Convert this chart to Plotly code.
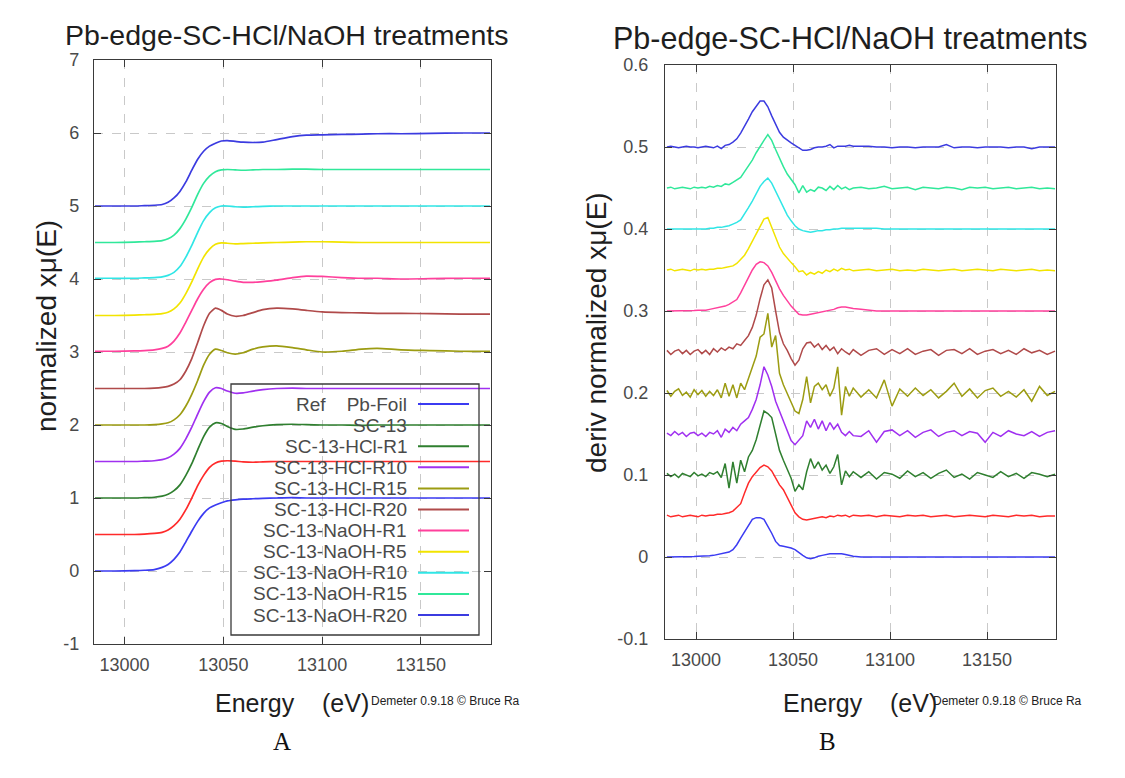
import plotly.graph_objects as go

# ---------------- data ----------------
samples = ["Ref    Pb-Foil", "SC-13", "SC-13-HCl-R1", "SC-13-HCl-R10", "SC-13-HCl-R15",
           "SC-13-HCl-R20", "SC-13-NaOH-R1", "SC-13-NaOH-R5", "SC-13-NaOH-R10",
           "SC-13-NaOH-R15", "SC-13-NaOH-R20"]
colors = ["#3b3bf2", "#ff2a2a", "#2f7f2f", "#a030f0", "#9c9c12", "#b04a4a",
          "#ff409c", "#f2e400", "#30e6e6", "#30e89a", "#3b3be0"]
show_legend_line = [True, False, True, True, True, True, True, True, True, True, True]

# y offsets used in the stacked plots
offsets_norm = [0, 0.5, 1.0, 1.5, 2.0, 2.5, 3.0, 3.5, 4.0, 4.5, 5.0]
offsets_deriv = [0, 0.05, 0.10, 0.15, 0.20, 0.25, 0.30, 0.35, 0.40, 0.45, 0.50]

# energy grid for normalized spectra (eV)
norm_E = [12985, 12995, 13005, 13010, 13015, 13019, 13022, 13025, 13028, 13031,
          13034, 13037, 13040, 13043, 13046, 13049, 13052, 13056, 13060, 13065,
          13070, 13077, 13085, 13092, 13100, 13110, 13120, 13128, 13140, 13155,
          13170, 13185]

mu_ref = [0.0, 0.0, 0.005, 0.01, 0.02, 0.05, 0.09, 0.16, 0.26, 0.40, 0.545, 0.68, 0.79, 0.865,
          0.905, 0.935, 0.96, 0.975, 0.985, 0.99, 0.995, 1.0, 1.005, 1.0, 1.0, 1.0, 1.0, 1.0,
          1.0, 1.0, 1.0, 1.0]
mu_sc13 = [0.0, 0.0, 0.0, 0.005, 0.015, 0.03, 0.06, 0.12, 0.21, 0.34, 0.50, 0.67, 0.81, 0.92,
           0.98, 1.005, 1.01, 1.005, 0.995, 0.99, 0.995, 1.0, 1.0, 1.0, 1.0, 1.0, 1.0, 1.0,
           1.0, 1.0, 1.0, 1.0]
mu_hcl1 = [0.0, 0.0, 0.0, 0.005, 0.01, 0.025, 0.05, 0.10, 0.18, 0.31, 0.47, 0.66, 0.84, 0.97,
           1.03, 1.02, 0.98, 0.94, 0.945, 0.97, 0.99, 1.005, 1.01, 1.005, 1.0, 1.0, 0.995, 1.0,
           1.0, 1.0, 1.0, 1.0]
mu_hcl10 = [0.0, 0.0, 0.0, 0.005, 0.01, 0.025, 0.05, 0.10, 0.18, 0.31, 0.47, 0.65, 0.82, 0.95,
            1.01, 1.0, 0.965, 0.935, 0.94, 0.965, 0.985, 1.0, 1.005, 1.0, 1.0, 1.0, 1.0, 1.0,
            1.0, 1.0, 1.0, 1.0]
mu_hcl15 = [0.0, 0.0, 0.0, 0.0, 0.005, 0.015, 0.03, 0.07, 0.14, 0.26, 0.42, 0.61, 0.82, 0.97,
            1.04, 1.02, 0.99, 0.97, 0.99, 1.04, 1.07, 1.085, 1.06, 1.03, 1.0, 1.01, 1.04, 1.05,
            1.03, 1.02, 1.01, 1.01]
mu_hcl20 = [0.0, 0.0, 0.0, 0.0, 0.005, 0.015, 0.03, 0.06, 0.12, 0.24, 0.41, 0.63, 0.86, 1.03,
            1.10, 1.07, 1.02, 0.99, 1.0, 1.04, 1.08, 1.10, 1.09, 1.07, 1.05, 1.04, 1.035, 1.03,
            1.03, 1.025, 1.02, 1.02]
mu_naoh1 = [0.01, 0.01, 0.015, 0.02, 0.03, 0.05, 0.08, 0.15, 0.26, 0.41, 0.57, 0.73, 0.86, 0.95,
            0.995, 1.0, 0.99, 0.97, 0.955, 0.955, 0.965, 0.985, 1.02, 1.04, 1.035, 1.02, 1.01,
            1.01, 1.0, 1.005, 1.01, 1.01]
mu_naoh5 = [0.0, 0.0, 0.005, 0.01, 0.015, 0.025, 0.045, 0.09, 0.17, 0.30, 0.46, 0.64, 0.80, 0.91,
            0.975, 0.995, 0.99, 0.98, 0.985, 0.99, 0.995, 1.0, 1.005, 1.01, 1.01, 1.005, 1.0,
            1.0, 1.0, 1.0, 1.0, 1.0]
mu_naoh10 = [0.01, 0.01, 0.01, 0.015, 0.02, 0.03, 0.05, 0.09, 0.17, 0.30, 0.46, 0.64, 0.80, 0.91,
             0.975, 1.0, 1.0, 0.99, 0.985, 0.99, 0.995, 1.0, 1.0, 1.0, 1.0, 1.0, 1.0, 1.0, 1.0,
             1.0, 1.0, 1.0]
mu_naoh15 = [0.0, 0.0, 0.005, 0.01, 0.015, 0.025, 0.05, 0.10, 0.19, 0.32, 0.48, 0.66, 0.81, 0.91,
             0.97, 0.995, 1.0, 0.995, 0.99, 0.995, 1.0, 1.0, 1.005, 1.005, 1.0, 1.0, 1.0, 1.0,
             1.0, 1.0, 1.0, 1.0]
mu_naoh20 = [0.0, 0.0, 0.0, 0.005, 0.01, 0.02, 0.05, 0.11, 0.20, 0.33, 0.49, 0.64, 0.75, 0.82,
             0.86, 0.89, 0.895, 0.885, 0.875, 0.87, 0.875, 0.91, 0.95, 0.97, 0.975, 0.98, 0.985,
             0.99, 0.99, 0.995, 1.0, 1.0]

# energy grid for derivative spectra (eV)
deriv_E = [12985, 12987, 12989, 12991, 12993, 12995, 12997, 12999, 13001, 13003,
           13005, 13007, 13009, 13011, 13013, 13015, 13017, 13019, 13021, 13023,
           13025, 13027, 13029, 13031, 13033, 13035, 13037, 13039, 13041, 13043,
           13045, 13047, 13049, 13051, 13053, 13055, 13057, 13059, 13061, 13063,
           13065, 13067, 13069, 13071, 13073, 13075, 13077, 13079, 13081,
           13085, 13089, 13093, 13097, 13101, 13105, 13109, 13113, 13117, 13121,
           13125, 13129, 13133, 13137, 13141, 13145, 13149, 13153, 13157, 13161,
           13165, 13169, 13173, 13177, 13181, 13185]

d_ref = [0.0, 0.0, 0.0, 0.0, 0.0, 0.0, 0.0005, 0.0005, 0.001, 0.001,
         0.001, 0.0015, 0.002, 0.003, 0.004, 0.005, 0.006, 0.009, 0.015, 0.023,
         0.031, 0.039, 0.046, 0.048, 0.048, 0.046, 0.038, 0.029, 0.019, 0.014,
         0.013, 0.012, 0.011, 0.009, 0.005, 0.002, -0.001, -0.002, -0.001, 0.001,
         0.002, 0.003, 0.004, 0.004, 0.004, 0.004, 0.003, 0.002, 0.001,
         0.0, 0.0, 0.0, 0.0, 0.0, 0.0, 0.0, 0.0, 0.0, 0.0, 0.0, 0.0, 0.0,
         0.0, 0.0, 0.0, 0.0, 0.0, 0.0, 0.0, 0.0, 0.0, 0.0, 0.0, 0.0, 0.0]
d_sc13 = [0.001, -0.001, 0.0, 0.001, -0.001, 0.0, 0.001, 0.0, -0.001, 0.001,
          0.0, 0.001, 0.001, 0.002, 0.002, 0.003, 0.004, 0.006, 0.010, 0.015,
          0.028, 0.040, 0.048, 0.054, 0.059, 0.062, 0.060, 0.055, 0.047, 0.038,
          0.032, 0.022, 0.012, 0.004, -0.001, -0.004, -0.005, -0.004, -0.003, -0.002,
          -0.001, -0.002, 0.0, -0.001, 0.001, 0.0, 0.001, -0.001, 0.001,
          0.0, 0.001, -0.001, 0.001, 0.0, -0.001, 0.001, 0.0, 0.001, -0.001, 0.0, 0.001, -0.001,
          0.0, 0.001, 0.0, -0.001, 0.001, 0.0, -0.001, 0.001, 0.0, 0.001, -0.001, 0.0, 0.0]
d_hcl1 = [0.002, -0.002, 0.001, -0.003, 0.002, 0.0, -0.002, 0.003, -0.001, 0.001,
          -0.002, 0.003, 0.001, 0.004, -0.003, 0.014, -0.016, 0.016, -0.010, 0.018,
          0.004, 0.022, 0.030, 0.043, 0.062, 0.078, 0.075, 0.070, 0.050, 0.030,
          0.018, 0.008, -0.004, -0.020, -0.012, -0.018, 0.004, 0.020, 0.008, 0.016,
          0.006, 0.012, 0.002, 0.010, 0.025, -0.012, 0.005, -0.002, 0.004,
          -0.003, 0.004, -0.005, 0.003, 0.001, -0.004, 0.005, -0.002, 0.003, -0.004, 0.002, 0.006,
          -0.003, 0.001, -0.005, 0.003, 0.0, -0.003, 0.004, -0.002, 0.002, -0.004, 0.003, 0.001,
          -0.002, 0.001]
d_hcl10 = [0.001, -0.002, 0.003, -0.001, 0.002, -0.003, 0.001, 0.002, -0.002, 0.001,
           -0.003, 0.002, 0.0, 0.004, -0.004, 0.006, 0.002, 0.008, 0.004, 0.012,
           0.016, 0.020, 0.030, 0.042, 0.060, 0.082, 0.072, 0.058, 0.040, 0.028,
           0.016, 0.002, -0.008, -0.013, -0.008, -0.002, 0.016, 0.008, 0.018, 0.006,
           0.016, 0.004, 0.014, 0.006, 0.012, 0.002, -0.002, 0.003, -0.002,
           -0.003, 0.004, -0.010, 0.003, 0.005, -0.002, 0.004, -0.004, 0.002, 0.005, -0.003, 0.002,
           0.004, -0.002, 0.003, 0.001, -0.010, 0.002, -0.003, 0.004, 0.0, -0.002, 0.003, -0.003,
           0.002, 0.004]
d_hcl15 = [0.003, -0.004, 0.002, 0.005, -0.003, 0.001, -0.005, 0.004, -0.002, 0.003,
           -0.004, 0.002, -0.003, 0.004, -0.006, 0.012, -0.004, 0.010, -0.006, 0.012,
           0.004, 0.018, 0.030, 0.045, 0.068, 0.072, 0.097, 0.056, 0.070, 0.024,
           0.010, 0.0, -0.010, -0.022, -0.025, -0.008, 0.020, -0.012, 0.008, 0.012,
           0.004, 0.010, -0.004, 0.006, 0.032, -0.027, 0.008, -0.004, 0.006,
           -0.005, 0.004, -0.006, 0.016, -0.016, 0.005, -0.004, 0.006, -0.003, 0.004, -0.006, 0.002,
           0.012, -0.004, 0.005, -0.006, 0.003, 0.006, -0.004, 0.002, -0.005, 0.004, -0.010, 0.008,
           -0.003, 0.002]
d_hcl20 = [0.002, -0.003, 0.001, 0.003, -0.002, 0.002, -0.003, 0.001, 0.003, -0.002,
           0.002, -0.003, 0.004, 0.0, 0.005, 0.002, 0.006, 0.004, 0.010, 0.008,
           0.014, 0.020, 0.030, 0.045, 0.065, 0.082, 0.088, 0.078, 0.050, 0.024,
           0.010, 0.002, -0.008, -0.016, -0.010, 0.004, 0.011, 0.012, 0.006, 0.010,
           0.003, 0.008, 0.002, 0.006, -0.002, 0.004, 0.0, -0.003, 0.003,
           -0.004, 0.002, 0.004, -0.003, 0.003, -0.002, 0.004, -0.003, 0.001, 0.003, -0.004, 0.002,
           0.003, -0.002, 0.004, -0.003, 0.001, 0.003, -0.002, 0.002, -0.003, 0.004, -0.001, 0.002,
           -0.003, 0.001]
d_naoh1 = [0.0, 0.0, 0.0, 0.0, 0.0, 0.0, 0.0, 0.0005, 0.001, 0.001,
           0.001, 0.002, 0.003, 0.004, 0.005, 0.006, 0.008, 0.011, 0.014, 0.022,
           0.032, 0.042, 0.050, 0.057, 0.060, 0.059, 0.055, 0.047, 0.036, 0.027,
           0.019, 0.012, 0.006, 0.001, -0.004, -0.005, -0.005, -0.004, -0.003, -0.002,
           -0.001, 0.0, 0.001, 0.002, 0.004, 0.005, 0.005, 0.004, 0.003,
           0.002, 0.001, 0.0, 0.0, 0.0, 0.0, 0.0, 0.0, 0.0, 0.0, 0.0, 0.0, 0.0,
           0.0, 0.0, 0.0, 0.0, 0.0, 0.0, 0.0, 0.0, 0.0, 0.0, 0.0, 0.0, 0.0]
d_naoh5 = [0.0, 0.001, -0.001, 0.0, 0.001, 0.0, -0.001, 0.001, 0.0, 0.001,
           0.0, 0.001, 0.001, 0.002, 0.002, 0.003, 0.004, 0.005, 0.008, 0.013,
           0.018, 0.026, 0.035, 0.044, 0.053, 0.062, 0.064, 0.052, 0.038, 0.028,
           0.020, 0.014, 0.009, 0.004, -0.002, -0.001, -0.006, -0.003, -0.005, -0.002,
           -0.004, 0.0, -0.002, 0.001, -0.001, 0.002, 0.0, 0.001, -0.001,
           0.0, 0.001, -0.001, 0.0, 0.001, -0.001, 0.0, -0.001, 0.001, 0.0, -0.001, 0.0, 0.001,
           -0.001, 0.0, 0.001, 0.0, -0.001, 0.001, 0.0, -0.001, 0.0, 0.001, -0.001, 0.0, -0.001]
d_naoh10 = [0.0, 0.0, 0.0, 0.0, 0.0, 0.0, 0.0, 0.0, 0.0005, 0.0005,
            0.0, 0.001, 0.001, 0.002, 0.002, 0.003, 0.004, 0.006, 0.008, 0.011,
            0.018, 0.026, 0.034, 0.044, 0.052, 0.058, 0.062, 0.056, 0.046, 0.035,
            0.026, 0.017, 0.010, 0.004, 0.0, -0.002, -0.003, -0.004, -0.003, -0.002,
            -0.002, -0.001, -0.001, 0.0, 0.0, 0.001, 0.001, 0.001, 0.001,
            0.001, 0.001, 0.001, 0.0, 0.0, 0.0, 0.0, 0.0, 0.0, 0.0, 0.0, 0.0, 0.0,
            0.0, 0.0, 0.0, 0.0, 0.0, 0.0, 0.0, 0.0, 0.0, 0.0, 0.0, 0.0, 0.0]
d_naoh15 = [0.0, 0.001, -0.001, 0.0, 0.001, 0.0, -0.001, 0.001, 0.0, 0.001,
            0.0, 0.002, 0.001, 0.003, 0.002, 0.005, 0.004, 0.007, 0.010, 0.013,
            0.020, 0.027, 0.034, 0.043, 0.051, 0.058, 0.065, 0.058, 0.047, 0.036,
            0.026, 0.017, 0.010, 0.004, -0.006, 0.003, -0.005, -0.002, -0.004, 0.001,
            0.0, -0.003, 0.002, -0.002, 0.003, -0.001, 0.001, -0.002, 0.0,
            0.001, -0.001, 0.0, 0.002, -0.001, 0.0, 0.001, -0.002, 0.001, 0.0, -0.001, 0.001, 0.0,
            -0.002, 0.001, 0.0, 0.001, -0.001, 0.0, 0.001, -0.001, 0.0, 0.001, -0.001, 0.0, -0.001]
d_naoh20 = [0.0, 0.001, 0.0, -0.001, 0.0, 0.001, 0.0, 0.0, -0.001, 0.0,
            0.001, 0.0, -0.001, 0.001, -0.002, 0.002, 0.003, 0.006, 0.010, 0.017,
            0.025, 0.034, 0.043, 0.050, 0.056, 0.056, 0.049, 0.038, 0.027, 0.018,
            0.012, 0.008, 0.005, 0.002, -0.001, -0.004, -0.004, -0.003, -0.001, 0.0,
            0.0, 0.001, 0.003, -0.001, 0.001, 0.001, 0.001, 0.002, 0.001,
            0.001, 0.001, 0.0, 0.0, -0.001, 0.0, 0.0, -0.001, 0.0, 0.0, 0.0, 0.003, -0.001,
            0.0, 0.0, -0.001, 0.0, 0.0, 0.0, -0.001, 0.0, 0.0, -0.002, 0.0, 0.0, 0.0]

norm_series = [mu_ref, mu_sc13, mu_hcl1, mu_hcl10, mu_hcl15, mu_hcl20,
               mu_naoh1, mu_naoh5, mu_naoh10, mu_naoh15, mu_naoh20]
deriv_series = [d_ref, d_sc13, d_hcl1, d_hcl10, d_hcl15, d_hcl20,
                d_naoh1, d_naoh5, d_naoh10, d_naoh15, d_naoh20]

left_yticks = [-1, 0, 1, 2, 3, 4, 5, 6, 7]
left_yticktext = ["-1", "0", "1", "2", "3", "4", "5", "6", "7"]
right_yticks = [-0.1, 0, 0.1, 0.2, 0.3, 0.4, 0.5, 0.6]
right_yticktext = ["-0.1", "0", "0.1", "0.2", "0.3", "0.4", "0.5", "0.6"]
xticks = [13000, 13050, 13100, 13150]
xticktext = ["13000", "13050", "13100", "13150"]

# ---------------- figure ----------------
# the page body keeps its default 8px margin, so the figure is drawn 16px smaller
# and window pixel positions are converted with that 8px offset
PAGE_MARGIN = 8
W, H = 1125 - 2 * PAGE_MARGIN, 778 - 2 * PAGE_MARGIN
FONT = "Liberation Sans, Arial, Helvetica, sans-serif"


def px(x):
    return (x - PAGE_MARGIN) / W


def py(y):
    return 1 - (y - PAGE_MARGIN) / H


fig = go.Figure()
for i, name in enumerate(samples):
    yv = [v + offsets_norm[i] for v in norm_series[i]]
    fig.add_trace(go.Scatter(x=norm_E, y=yv, mode="lines", name=name.replace("    ", " "),
                             line=dict(color=colors[i], width=1.7, shape="spline", smoothing=0.6),
                             xaxis="x", yaxis="y", showlegend=False))
for i, name in enumerate(samples):
    yv = [v + offsets_deriv[i] for v in deriv_series[i]]
    fig.add_trace(go.Scatter(x=deriv_E, y=yv, mode="lines", name=name.replace("    ", " "),
                             line=dict(color=colors[i], width=1.5),
                             xaxis="x2", yaxis="y2", showlegend=False))

axis_common = dict(showline=True, linecolor="#3a3a3a", linewidth=1.3, mirror="allticks",
                   ticks="inside", ticklen=7, tickwidth=1.2, tickcolor="#3a3a3a",
                   showgrid=True, gridcolor="#c9c9c9", griddash="dash", gridwidth=1,
                   zeroline=False, automargin=False,
                   tickfont=dict(family=FONT, size=18, color="#4a4a4a"))

L_X = (94, 491)
L_Y = (60, 644)
R_X = (665, 1056)
R_Y = (65, 639)

fig.update_layout(
    template="none",
    width=W, height=H, margin=dict(l=0, r=0, t=0, b=0, autoexpand=False),
    paper_bgcolor="white", plot_bgcolor="white", showlegend=False,
    xaxis=dict(domain=[px(L_X[0]), px(L_X[1])], range=[12984.5, 13185.5], tickvals=xticks,
               ticktext=xticktext, anchor="y", ticklabelstandoff=4, **axis_common),
    yaxis=dict(domain=[py(L_Y[1]), py(L_Y[0])], range=[-1, 7], tickvals=left_yticks,
               ticktext=left_yticktext, anchor="x", ticklabelstandoff=10, **axis_common),
    xaxis2=dict(domain=[px(R_X[0]), px(R_X[1])], range=[12984, 13185.5], tickvals=xticks,
                ticktext=xticktext, anchor="y2", ticklabelstandoff=4, **axis_common),
    yaxis2=dict(domain=[py(R_Y[1]), py(R_Y[0])], range=[-0.1, 0.6], tickvals=right_yticks,
                ticktext=right_yticktext, anchor="x2", ticklabelstandoff=12, **axis_common),
)

ann = []
shapes = []


def text(x, y, s, size, color="#1e1e1e", anchor="center", angle=0, family=FONT):
    ann.append(dict(x=px(x), y=py(y), xref="paper", yref="paper", text=s, showarrow=False,
                    xanchor=anchor, yanchor="middle", textangle=angle, borderpad=0,
                    font=dict(family=family, size=size, color=color)))


NB = "\u00a0"
# titles
text(286, 35, "Pb-edge-SC-HCl/NaOH treatments", 28.5)
text(612, 38, "Pb-edge-SC-HCl/NaOH treatments", 30.5, anchor="left")
# axis titles
text(292, 703, "Energy" + NB * 4 + "(eV)", 25)
text(860, 703, "Energy" + NB * 4 + "(eV)", 25)
text(47, 326, "normalized xμ(E)", 28, angle=-90)
text(596, 333, "deriv normalized xμ(E)", 28, angle=-90)
# program credit
text(370, 701, "Demeter 0.9.18 © Bruce Ra", 12, color="#222", anchor="left")
text(932, 701, "Demeter 0.9.18 © Bruce Ra", 12, color="#222", anchor="left")
# panel letters
text(282, 741, "A", 25, color="#111", family="Liberation Serif, DejaVu Serif, serif")
text(827, 741, "B", 25, color="#111", family="Liberation Serif, DejaVu Serif, serif")

# manual gnuplot-style key
shapes.append(dict(type="rect", xref="paper", yref="paper", x0=px(231), x1=px(479),
                   y0=py(635), y1=py(384), line=dict(color="#3a3a3a", width=1.3)))
row0, dy = 404, 21.1
for i, name in enumerate(samples):
    yrow = row0 + i * dy
    text(408, yrow, name.replace(" ", NB), 19, color="#4a4a4a", anchor="right")
    if show_legend_line[i]:
        shapes.append(dict(type="line", xref="paper", yref="paper", x0=px(418), x1=px(469),
                           y0=py(yrow), y1=py(yrow), line=dict(color=colors[i], width=2)))

fig.update_layout(annotations=ann, shapes=shapes)
fig.write_html("out.html")
